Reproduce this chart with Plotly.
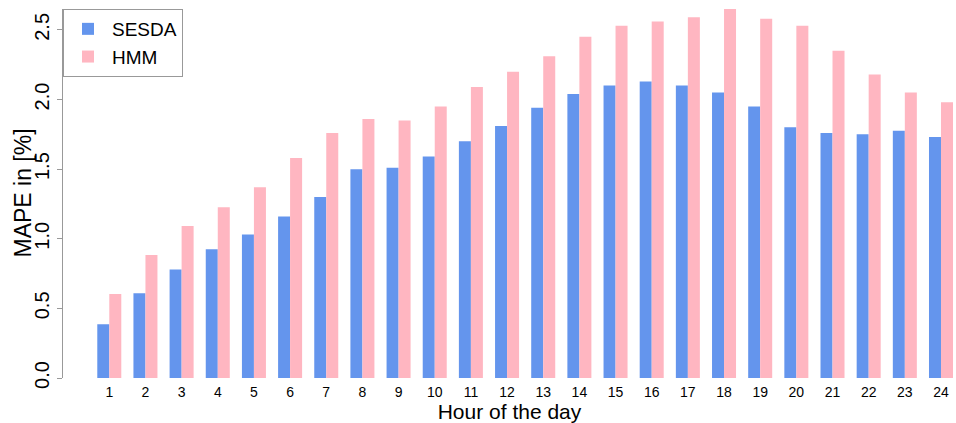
import plotly.graph_objects as go

hours = list(range(1, 25))
hour_labels = [str(h) for h in hours]
sesda = [0.386, 0.608, 0.78, 0.925, 1.03, 1.16, 1.30, 1.50, 1.51, 1.59, 1.70, 1.81,
         1.94, 2.04, 2.10, 2.13, 2.10, 2.05, 1.95, 1.80, 1.76, 1.75, 1.775, 1.73]
hmm = [0.603, 0.884, 1.092, 1.226, 1.37, 1.58, 1.76, 1.86, 1.85, 1.95, 2.09, 2.20,
       2.31, 2.45, 2.53, 2.56, 2.59, 2.65, 2.58, 2.53, 2.35, 2.18, 2.05, 1.98]
y_ticks = [0.0, 0.5, 1.0, 1.5, 2.0, 2.5]

FONT = "Liberation Sans, Arial, sans-serif"
L, R, T, B, W = 63, 0, 9, 45, 956

fig = go.Figure()
fig.add_trace(go.Bar(x=hours, y=sesda, name="SESDA", marker=dict(color="#6495ED", line=dict(width=0))))
fig.add_trace(go.Bar(x=hours, y=hmm, name="HMM", marker=dict(color="#FFB6C1", line=dict(width=0))))

fig.add_annotation(text="MAPE in [%]", textangle=-90, xref="paper", yref="paper",
                   x=(22 - L) / (W - L - R), y=0.5, xanchor="center", yanchor="middle",
                   showarrow=False, font=dict(size=23, family=FONT, color="black"))

fig.update_layout(
    width=W, height=423,
    margin=dict(l=L, r=R, t=T, b=B, autoexpand=False),
    paper_bgcolor="white", plot_bgcolor="white",
    barmode="group", bargap=0.336, bargroupgap=0,
    font=dict(family=FONT, color="black"),
    showlegend=True,
    legend=dict(x=0, y=1, xanchor="left", yanchor="top", bgcolor="white",
                bordercolor="#999999", borderwidth=1,
                font=dict(size=19, family=FONT, color="black"),
                tracegroupgap=0, itemwidth=38),
    xaxis=dict(range=[-0.28, 24.415], tickmode="array", tickvals=hours, ticktext=hour_labels,
               showgrid=False, zeroline=False, showline=False, ticks="",
               tickfont=dict(size=14), automargin=False, ticklabelstandoff=4,
               title=dict(text="Hour of the day", font=dict(size=21), standoff=6)),
    yaxis=dict(range=[0, 2.65], tickmode="array", tickvals=y_ticks, tickformat=".1f",
               showgrid=False, zeroline=False, showline=True, linecolor="#999999", linewidth=1,
               ticks="outside", ticklen=5, tickcolor="#999999", tickangle=-90,
               tickfont=dict(size=20), automargin=False),
)

fig.write_html("out.html", post_script="document.body.style.margin='0px';",
               config={"displayModeBar": False})
